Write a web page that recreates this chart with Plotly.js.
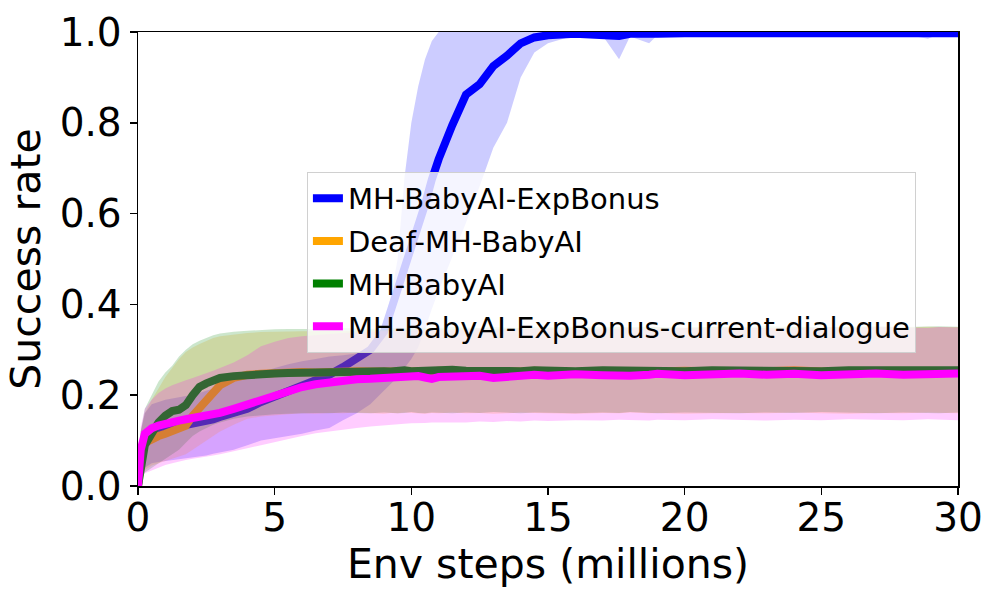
<!DOCTYPE html>
<html>
<head>
<meta charset="utf-8">
<script src="https://cdn.plot.ly/plotly-3.0.1.min.js"></script>
<style>html,body{margin:0;padding:0;background:#fff;}#chart{width:1000px;height:600px;}</style>
</head>
<body>
<div id="chart"></div>
<script>
// Env steps (millions)
const steps = [0,0.1,0.25,0.5,0.75,1,1.25,1.5,1.75,2,2.25,2.5,2.75,3,3.5,4,4.5,5,5.5,6,6.5,7,7.5,8,8.5,9,9.25,9.5,9.75,10,10.25,10.5,10.75,11,11.5,12,12.5,13,13.5,14,14.5,15,16,17,17.6,18,18.7,19,20,21,22,23,24,25,26,27,28,28.9,29.3,30];

const seriesNames = ["MH-BabyAI-ExpBonus", "Deaf-MH-BabyAI", "MH-BabyAI", "MH-BabyAI-ExpBonus-current-dialogue"];

const expBonusMean = [0,0.07,0.105,0.118,0.122,0.125,0.127,0.13,0.133,0.135,0.138,0.142,0.147,0.152,0.16,0.17,0.185,0.197,0.206,0.218,0.232,0.245,0.262,0.28,0.3,0.34,0.385,0.43,0.48,0.53,0.575,0.62,0.675,0.72,0.795,0.862,0.885,0.925,0.948,0.975,0.988,0.993,0.996,0.995,0.991,0.996,0.993,0.996,0.997,0.997,0.996,0.997,0.998,0.997,0.997,0.997,0.997,0.994,0.997,0.997];
const expBonusUpper = [0,0.12,0.16,0.18,0.185,0.19,0.193,0.196,0.198,0.2,0.205,0.21,0.215,0.22,0.23,0.24,0.25,0.26,0.268,0.275,0.28,0.285,0.288,0.292,0.305,0.345,0.42,0.5,0.68,0.8,0.88,0.94,0.98,1,1,1,1,1,1,1,1,1,1,1,1,1,1,1,1,1,1,1,1,1,1,1,1,1,1,1];
const expBonusLower = [0,0.02,0.04,0.05,0.053,0.055,0.057,0.059,0.061,0.063,0.064,0.067,0.071,0.074,0.08,0.09,0.1,0.105,0.11,0.115,0.122,0.128,0.145,0.16,0.18,0.21,0.225,0.24,0.26,0.28,0.305,0.345,0.39,0.43,0.505,0.58,0.66,0.745,0.8,0.9,0.955,0.975,0.993,0.992,0.94,0.99,0.975,0.993,0.995,0.995,0.994,0.995,0.996,0.995,0.995,0.995,0.995,0.985,0.995,0.995];

const deafMean = [0,0.06,0.095,0.105,0.11,0.115,0.12,0.125,0.133,0.155,0.172,0.19,0.203,0.222,0.238,0.245,0.247,0.249,0.25,0.251,0.25,0.252,0.251,0.253,0.252,0.251,0.253,0.252,0.25,0.252,0.253,0.251,0.252,0.254,0.252,0.251,0.253,0.252,0.25,0.252,0.254,0.252,0.251,0.253,0.252,0.25,0.253,0.252,0.254,0.252,0.251,0.253,0.255,0.252,0.253,0.251,0.253,0.252,0.254,0.253];
const deafUpper = [0,0.12,0.16,0.19,0.215,0.24,0.26,0.28,0.295,0.305,0.313,0.32,0.326,0.33,0.334,0.337,0.339,0.34,0.341,0.341,0.341,0.342,0.341,0.343,0.344,0.343,0.345,0.344,0.346,0.345,0.346,0.345,0.347,0.346,0.345,0.347,0.348,0.346,0.347,0.348,0.347,0.349,0.348,0.347,0.349,0.348,0.35,0.349,0.348,0.35,0.349,0.348,0.35,0.349,0.351,0.35,0.349,0.351,0.35,0.35];
const deafLower = [0,0.02,0.035,0.045,0.05,0.055,0.06,0.065,0.07,0.08,0.09,0.1,0.11,0.12,0.135,0.148,0.153,0.156,0.158,0.16,0.159,0.161,0.16,0.162,0.16,0.159,0.161,0.16,0.162,0.161,0.16,0.159,0.161,0.16,0.162,0.16,0.161,0.159,0.16,0.162,0.161,0.16,0.159,0.161,0.16,0.162,0.16,0.161,0.159,0.16,0.161,0.16,0.162,0.16,0.159,0.161,0.16,0.162,0.161,0.16];

const babyMean = [0,0.05,0.09,0.115,0.14,0.155,0.165,0.168,0.178,0.2,0.218,0.226,0.232,0.238,0.242,0.245,0.247,0.248,0.249,0.25,0.252,0.251,0.253,0.252,0.254,0.253,0.252,0.254,0.255,0.253,0.254,0.255,0.253,0.254,0.256,0.254,0.253,0.255,0.254,0.253,0.255,0.254,0.253,0.255,0.254,0.253,0.255,0.254,0.253,0.255,0.254,0.256,0.254,0.253,0.255,0.254,0.253,0.255,0.254,0.255];
const babyUpper = [0,0.12,0.17,0.2,0.23,0.25,0.265,0.285,0.3,0.312,0.32,0.326,0.332,0.336,0.34,0.342,0.344,0.345,0.346,0.346,0.347,0.346,0.348,0.347,0.346,0.348,0.347,0.349,0.348,0.347,0.348,0.349,0.347,0.348,0.35,0.349,0.348,0.35,0.349,0.348,0.35,0.349,0.351,0.35,0.349,0.35,0.351,0.35,0.349,0.351,0.35,0.352,0.351,0.35,0.351,0.352,0.35,0.351,0.352,0.351];
const babyLower = [0,0.015,0.03,0.04,0.05,0.06,0.07,0.08,0.095,0.11,0.12,0.128,0.135,0.14,0.148,0.153,0.156,0.158,0.159,0.16,0.161,0.16,0.162,0.161,0.16,0.162,0.161,0.16,0.161,0.163,0.161,0.16,0.162,0.161,0.16,0.162,0.161,0.163,0.161,0.16,0.162,0.161,0.16,0.162,0.161,0.163,0.161,0.16,0.162,0.161,0.16,0.162,0.161,0.163,0.161,0.16,0.162,0.161,0.16,0.162];

const dialogueMean = [0,0.08,0.115,0.127,0.133,0.138,0.141,0.144,0.147,0.149,0.151,0.154,0.158,0.161,0.17,0.18,0.19,0.2,0.208,0.218,0.224,0.229,0.232,0.235,0.236,0.238,0.24,0.24,0.238,0.241,0.242,0.239,0.236,0.24,0.242,0.24,0.243,0.238,0.241,0.244,0.245,0.243,0.246,0.244,0.246,0.243,0.245,0.247,0.244,0.246,0.248,0.245,0.247,0.244,0.246,0.248,0.245,0.247,0.246,0.248];
const dialogueUpper = [0,0.13,0.17,0.19,0.205,0.215,0.222,0.228,0.233,0.238,0.243,0.248,0.254,0.26,0.272,0.288,0.308,0.318,0.326,0.33,0.333,0.335,0.337,0.339,0.34,0.341,0.342,0.341,0.343,0.342,0.344,0.343,0.345,0.344,0.343,0.345,0.346,0.344,0.346,0.345,0.347,0.346,0.345,0.347,0.346,0.348,0.347,0.346,0.348,0.347,0.349,0.348,0.347,0.349,0.348,0.35,0.349,0.348,0.35,0.349];
const dialogueLower = [0,0.015,0.028,0.034,0.04,0.046,0.05,0.054,0.057,0.06,0.062,0.064,0.067,0.07,0.076,0.083,0.09,0.097,0.104,0.11,0.116,0.12,0.125,0.128,0.131,0.134,0.135,0.136,0.137,0.138,0.138,0.139,0.14,0.14,0.141,0.14,0.142,0.141,0.143,0.142,0.144,0.143,0.145,0.144,0.146,0.145,0.144,0.146,0.145,0.147,0.145,0.144,0.146,0.145,0.147,0.146,0.145,0.147,0.146,0.145];

const xTicks = [0, 5, 10, 15, 20, 25, 30];
const yTicks = [0, 0.2, 0.4, 0.6, 0.8, 1.0];

const series = [
  {name: seriesNames[0], mean: expBonusMean, upper: expBonusUpper, lower: expBonusLower, color: "rgb(0,0,255)", band: "rgba(0,0,255,0.2)"},
  {name: seriesNames[1], mean: deafMean, upper: deafUpper, lower: deafLower, color: "rgb(255,165,0)", band: "rgba(255,165,0,0.2)"},
  {name: seriesNames[2], mean: babyMean, upper: babyUpper, lower: babyLower, color: "rgb(0,128,0)", band: "rgba(0,128,0,0.2)"},
  {name: seriesNames[3], mean: dialogueMean, upper: dialogueUpper, lower: dialogueLower, color: "rgb(255,0,255)", band: "rgba(255,0,255,0.2)"}
];

const traces = [];
series.forEach((s, i) => {
  traces.push({x: steps, y: s.lower, type: "scatter", mode: "lines", line: {width: 0, color: s.band}, showlegend: false, hoverinfo: "skip", legendgroup: "g" + i});
  traces.push({x: steps, y: s.upper, type: "scatter", mode: "lines", line: {width: 0, color: s.band}, fill: "tonexty", fillcolor: s.band, showlegend: false, hoverinfo: "skip", legendgroup: "g" + i});
  traces.push({x: steps, y: s.mean, type: "scatter", mode: "lines", name: s.name, line: {width: 8, color: s.color}, legendgroup: "g" + i});
});

const font = "DejaVu Sans, sans-serif";
const layout = {
  width: 1000, height: 600,
  margin: {l: 138, r: 42, t: 32, b: 114},
  paper_bgcolor: "#fff", plot_bgcolor: "#fff",
  font: {family: font, color: "#000"},
  showlegend: true,
  legend: {
    x: 0.206, y: 0.692, xanchor: "left", yanchor: "top",
    bgcolor: "rgba(255,255,255,0.8)", bordercolor: "#d0d0d0", borderwidth: 1,
    font: {family: font, size: 29, color: "#000"},
    traceorder: "grouped", tracegroupgap: 2
  },
  xaxis: {
    range: [0, 30], tickvals: xTicks, ticktext: xTicks.map(String),
    showline: true, mirror: true, linecolor: "#000", linewidth: 1.5,
    ticks: "outside", ticklen: 7, tickwidth: 1.5, tickcolor: "#000",
    showgrid: false, zeroline: false, ticklabelstandoff: -10,
    tickfont: {family: font, size: 39, color: "#000"},
    title: {text: "Env steps (millions)", font: {family: font, size: 41, color: "#000"}, standoff: 2}
  },
  yaxis: {
    range: [0, 1], tickvals: yTicks, ticktext: yTicks.map(v => v.toFixed(1)),
    showline: true, mirror: true, linecolor: "#000", linewidth: 1.5,
    ticks: "outside", ticklen: 7, tickwidth: 1.5, tickcolor: "#000",
    showgrid: false, zeroline: false,
    tickfont: {family: font, size: 39, color: "#000"},
    title: {text: "Success rate", font: {family: font, size: 41, color: "#000"}, standoff: 6}
  }
};

Plotly.newPlot("chart", traces, layout, {displayModeBar: false, staticPlot: true});
</script>
</body>
</html>
